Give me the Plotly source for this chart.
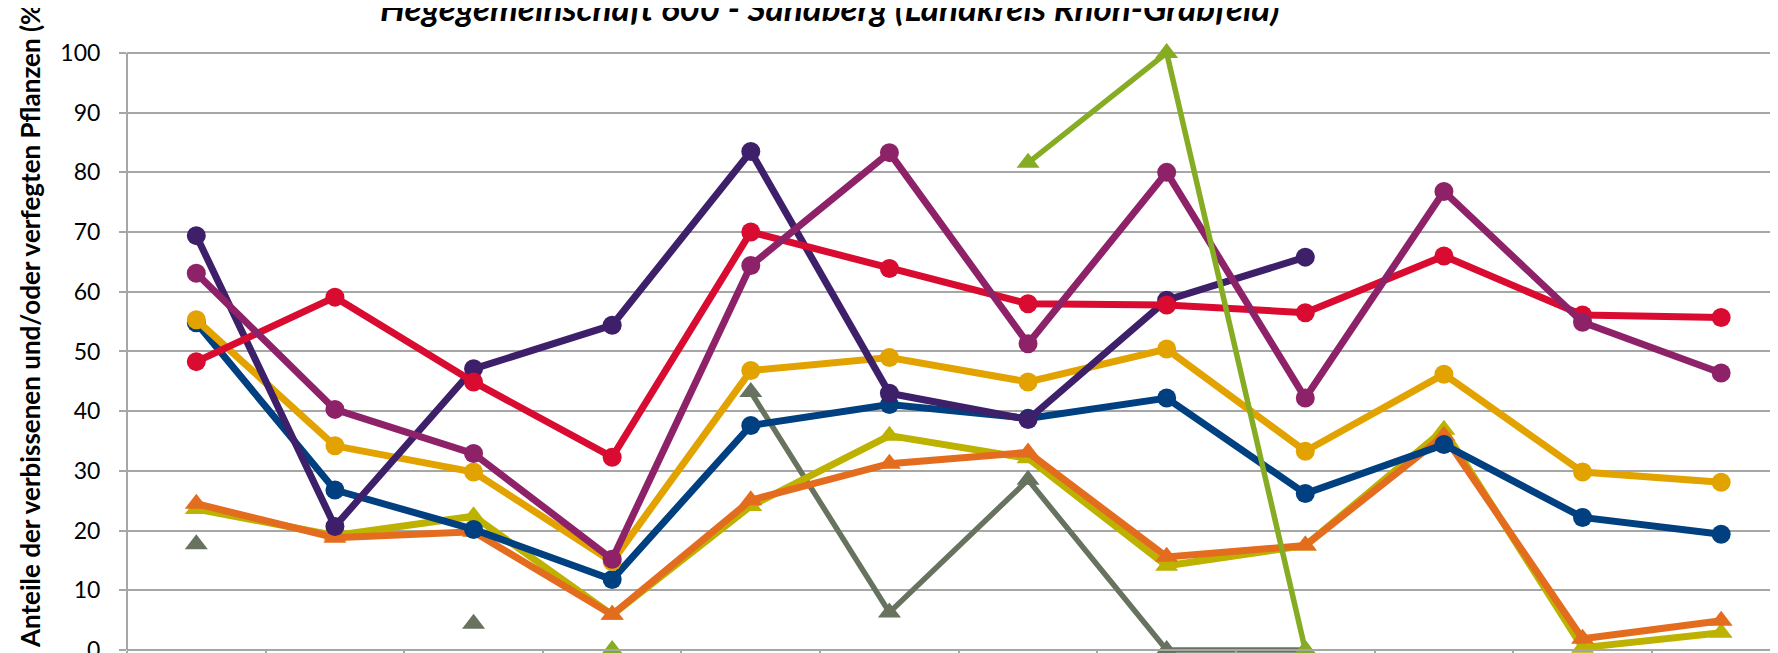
import plotly.graph_objects as go

# category positions (category labels are cut off in the reference)
cat_index = list(range(12))

dark_purple = [69.4, 20.7, 47.1, 54.4, 83.5, 43.0, 38.6, 58.6, 65.8, None, None, None]
magenta     = [63.1, 40.3, 32.9, 15.2, 64.4, 83.3, 51.3, 80.0, 42.2, 76.8, 54.9, 46.4]
red         = [48.3, 59.1, 44.9, 32.3, 70.0, 63.9, 58.0, 57.8, 56.5, 66.0, 56.1, 55.7]
yellow      = [55.3, 34.2, 29.8, 14.8, 46.8, 49.0, 44.9, 50.4, 33.3, 46.2, 29.8, 28.1]
blue        = [54.8, 26.8, 20.2, 11.8, 37.6, 41.1, 38.8, 42.2, 26.2, 34.4, 22.2, 19.4]
olive       = [23.6, 19.2, 22.4, 5.9, 24.1, 35.9, 32.1, 14.1, 17.5, 36.9, 0.4, 2.9]
orange      = [24.5, 18.8, 19.8, 5.9, 25.1, 31.2, 33.1, 15.6, 17.5, 35.9, 1.9, 4.9]
grey_green  = [17.7, None, 4.4, None, 43.2, 6.3, 28.5, 0.0, 0.0, None, None, None]
light_green = [None, None, None, 0.0, None, None, 81.6, 100.0, 0.0, None, None, None]

y_ticks = [0, 10, 20, 30, 40, 50, 60, 70, 80, 90, 100]
title_text = "Hegegemeinschaft 600 - Sandberg (Landkreis Rhön-Grabfeld)"
y_title = "Anteile der verbissenen und/oder verfegten Pflanzen (%)"

FONT = "Lato"
GRID = "#A6A6A6"

series = [
    (grey_green, "#68735F", "triangle-up", 5.5),
    (olive, "#BDB200", "triangle-up", 7),
    (orange, "#E36C1F", "triangle-up", 7),
    (blue, "#003F80", "circle", 7),
    (yellow, "#E2A300", "circle", 7),
    (dark_purple, "#3D2069", "circle", 7),
    (red, "#D90B30", "circle", 7),
    (magenta, "#8E2268", "circle", 7),
    (light_green, "#85AC22", "triangle-up", 5.5),
]

fig = go.Figure()
for vals, col, sym, lw in series:
    fig.add_trace(go.Scatter(
        x=cat_index, y=vals, mode="lines+markers",
        line=dict(color=col, width=lw),
        marker=dict(symbol=sym, color=col, size=19 if sym == "circle" else 20,
                    line=dict(width=0)),
        connectgaps=False, cliponaxis=False, showlegend=False,
        hoverinfo="skip",
    ))

# page body has an 8px margin; figure sized to fit inside the window
W, H = 1770, 645
L, T = 119, 33
plot_h = H - T
plot_w = W - L
y_lo, y_hi = -0.5, 102.0


def ypaper(px):  # px in figure coordinates
    return (H - px) / plot_h


def xpaper(px):
    return (px - L) / plot_w


fig.update_layout(
    width=W, height=H, autosize=False,
    margin=dict(l=L, r=0, t=T, b=0, pad=0, autoexpand=False),
    paper_bgcolor="white", plot_bgcolor="white",
    font=dict(family=FONT, color="black"),
    xaxis=dict(
        range=[-0.5, 11.41], showgrid=False, zeroline=False, automargin=False,
        anchor="free", position=(0 - y_lo) / (y_hi - y_lo),
        showline=True, linecolor=GRID, linewidth=2,
        ticks="outside", ticklen=7, tickcolor=GRID, tickwidth=1.5,
        tickvals=[i - 0.5 for i in range(13)], showticklabels=False,
    ),
    yaxis=dict(
        range=[y_lo, y_hi], tickvals=y_ticks, ticktext=[str(v) for v in y_ticks],
        showgrid=True, gridcolor=GRID, gridwidth=2, automargin=False,
        zeroline=False, showline=False,
        ticks="outside", ticklen=7, tickcolor=GRID, tickwidth=1.5,
        ticklabelstandoff=14, ticklabeloverflow="allow",
        tickfont=dict(family=FONT, size=23, color="black"),
    ),
    shapes=[dict(type="line", xref="paper", yref="y", x0=0, x1=0, y0=0, y1=100,
                 line=dict(color=GRID, width=2), layer="below")],
    annotations=[
        dict(text="<b><i>" + title_text + "</i></b>", xref="paper", yref="paper",
             x=xpaper(822), y=ypaper(22), xanchor="center", yanchor="bottom",
             showarrow=False, font=dict(family=FONT, size=35, color="black")),
        dict(text="<b>" + y_title + "</b>", xref="paper", yref="paper",
             x=xpaper(22), y=ypaper(314), xanchor="center", yanchor="middle",
             textangle=-90, showarrow=False,
             font=dict(family=FONT, size=26, color="black")),
    ],
)

fig.write_html("out.html")
